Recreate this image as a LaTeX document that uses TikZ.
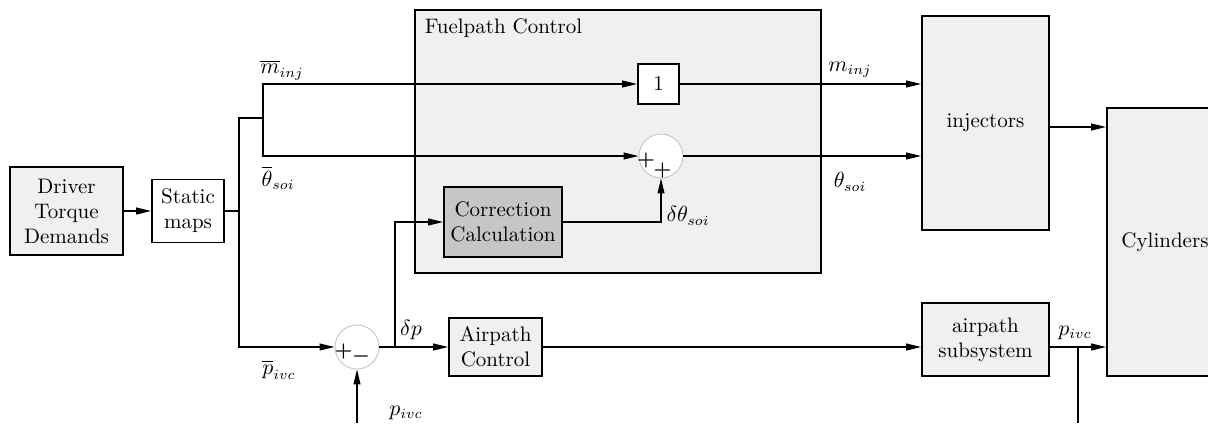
\documentclass[tikz,border=0pt]{standalone}
\usepackage{amsmath}
\usetikzlibrary{positioning, arrows.meta, calc}

\begin{document}
\begin{tikzpicture}[x=0.5pt,y=-0.5pt,font=\fontsize{10.5}{12.5}\selectfont,>={Triangle[length=7.5pt,width=3.4pt]},line width=0.7pt,
  b/.style={draw,line width=0.8pt,fill=gray!12,align=center,inner sep=0pt},
  w/.style={draw,line width=0.8pt,fill=white,align=center,inner sep=0pt},
  sm/.style={draw=gray!50,line width=0.4pt,fill=white,circle,minimum size=22pt,inner sep=0pt},
  sg/.style={inner sep=0pt,font=\fontsize{10}{10}\selectfont\boldmath},
  lbl/.style={inner sep=0pt}]
  \useasboundingbox (0,0) rectangle (1208,423);
  % blocks
  \node[b,minimum width=203pt,minimum height=131.5pt](fuel) at (618,141.5){};
  \node[lbl,anchor=north west](fuelt) at ($(fuel.north west)+(10,9)$){Fuelpath Control};
  \node[b,minimum width=56.5pt,minimum height=44pt](drv) at (66.5,211){Driver\\Torque\\Demands};
  \node[w,minimum width=36pt,minimum height=31.5pt](stat) at (188,211){Static\\maps};
  \node[w,minimum width=20.5pt,minimum height=20pt](one) at (658.5,84){1};
  \node[sm](s2) at (661,156){};
  \node[sg] at ($(s2)+(-15,4)$){$+$};
  \node[sg] at ($(s2)+(1.5,14)$){$+$};
  \node[b,fill=gray!45,minimum width=59pt,minimum height=35pt](corr) at (503,222){Correction\\Calculation};
  \node[sm](s1) at (357,347){};
  \node[sg] at ($(s1)+(-13.5,4)$){$+$};
  \node[sg] at ($(s1)+(4,9)$){$-$};
  \node[b,minimum width=46.5pt,minimum height=29pt](air) at (495.5,347){Airpath\\Control};
  \node[b,minimum width=63.5pt,minimum height=107pt](inj) at (985.5,123){injectors};
  \node[b,minimum width=63.5pt,minimum height=36.5pt](sub) at (985.5,339.5){airpath\\subsystem};
  \node[b,minimum width=58pt,minimum height=134pt](cyl) at (1165,242){Cylinders};
  % junctions
  \coordinate(j1) at (239,211);
  \coordinate(j2) at (239,118);
  \coordinate(j3) at (263,118);
  \coordinate(j4) at (395,347);
  \coordinate(j5) at (1078,347);
  \coordinate(pin) at (357,423);
  \coordinate(pout) at (1078,423);
  % connectors
  \draw[->](drv)--(stat);
  \draw(stat)--(j1);
  \draw[->](j1)|-(s1);
  \draw(j1)--(j2)--(j3);
  \draw[->](j3)|-(one);
  \draw[->](j3)|-(s2);
  \draw[->](one)--(one-|inj.west);
  \draw[->](s2)--(s2-|inj.west);
  \draw[->](corr)-|(s2);
  \draw[->](pin)--(s1);
  \draw[->](s1)--(air);
  \draw[->](j4)|-(corr);
  \draw[->](air)--(air-|sub.west);
  \draw[->]($(inj.east)+(0,4)$)--($(inj.east-|cyl.west)+(0,4)$);
  \draw[->](j5-|sub.east)--(j5-|cyl.west);
  \draw(j5)--(pout);
  % labels
  \node[lbl] at (282,70){$\overline{m}_{inj}$};
  \node[lbl] at (278,178){$\overline{\theta}_{soi}$};
  \node[lbl] at (279,370){$\overline{p}_{ivc}$};
  \node[lbl] at (411,330){$\delta p$};
  \node[lbl] at (406,413){$p_{ivc}$};
  \node[lbl] at (688,216){$\delta\theta_{soi}$};
  \node[lbl] at (850,70){$m_{inj}$};
  \node[lbl] at (850,182){$\theta_{soi}$};
  \node[lbl] at (1075,333){$p_{ivc}$};
\end{tikzpicture}
\end{document}
